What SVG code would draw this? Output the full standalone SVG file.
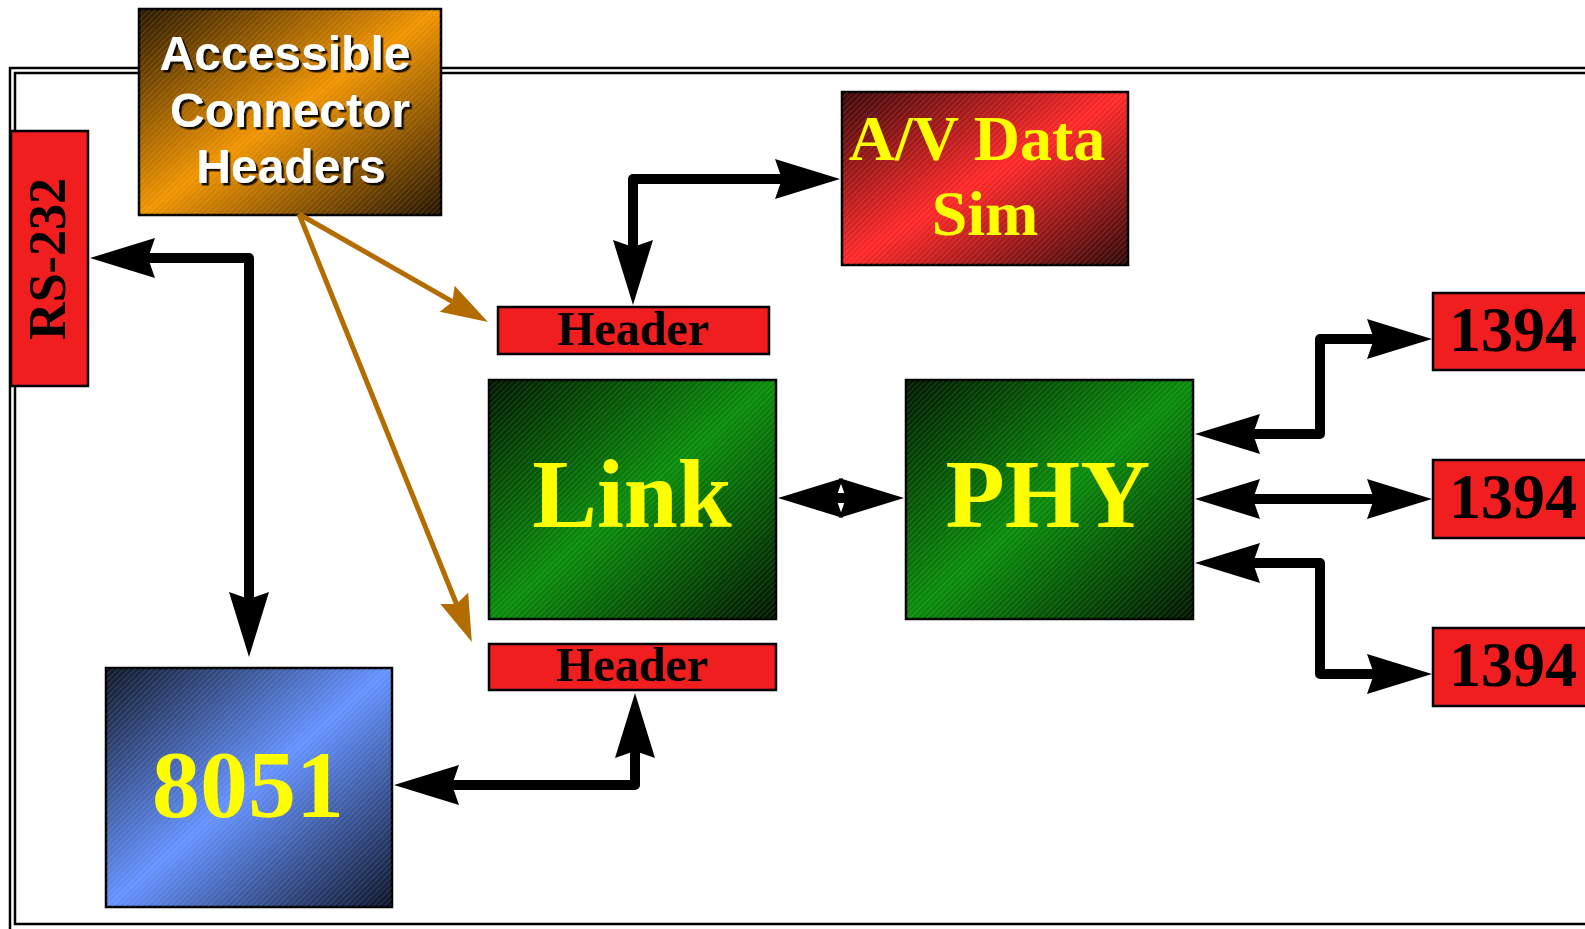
<svg xmlns="http://www.w3.org/2000/svg" width="1585" height="929" viewBox="0 0 1585 929">
<defs>
<style>
.box{stroke:#000;stroke-width:2.5}
.red{fill:#f01e1e}
.serif{font-family:"Liberation Serif","Times New Roman",serif;font-weight:bold;text-anchor:middle}
.yel{fill:#ffff00}
.blk{fill:#000}
.sans{font-family:"Liberation Sans",Arial,sans-serif;font-weight:bold;font-size:48px;fill:#fff;text-anchor:middle}
.conn{fill:none;stroke:#000;stroke-width:10;stroke-linejoin:round;marker-start:url(#ah);marker-end:url(#ah)}
.oconn{fill:none;stroke:#b36c00;stroke-width:5;marker-end:url(#oah)}
.hatch{fill:url(#hatch)}
</style>
<marker id="ah" markerUnits="userSpaceOnUse" markerWidth="70" markerHeight="44" viewBox="0 -22 70 44" refX="7" refY="0" orient="auto-start-reverse">
<path d="M0,-20 L65,0 L0,20 L7,0 z" fill="#000"/>
</marker>
<marker id="oah" markerUnits="userSpaceOnUse" markerWidth="50" markerHeight="34" viewBox="0 -17 50 34" refX="6" refY="0" orient="auto">
<path d="M0,-15 L47,0 L0,15 L6,0 z" fill="#b36c00"/>
</marker>
<linearGradient id="gOrange" x1="0" y1="0" x2="1" y2="1">
<stop offset="0" stop-color="#2a1800"/><stop offset="0.5" stop-color="#f09400"/><stop offset="1" stop-color="#241400"/>
</linearGradient>
<linearGradient id="gRed" x1="0" y1="0" x2="1" y2="1">
<stop offset="0" stop-color="#3a0808"/><stop offset="0.5" stop-color="#ff2828"/><stop offset="1" stop-color="#300808"/>
</linearGradient>
<linearGradient id="gGreen" x1="0" y1="0" x2="1" y2="1">
<stop offset="0" stop-color="#001800"/><stop offset="0.5" stop-color="#0a8c0a"/><stop offset="1" stop-color="#001400"/>
</linearGradient>
<linearGradient id="gBlue" x1="0" y1="0" x2="1" y2="1">
<stop offset="0" stop-color="#101828"/><stop offset="0.5" stop-color="#6492ff"/><stop offset="1" stop-color="#0c1428"/>
</linearGradient>
<pattern id="hatch" patternUnits="userSpaceOnUse" width="4" height="4" patternTransform="rotate(45)">
<rect x="0" y="0" width="1" height="4" fill="#fff" fill-opacity="0.12"/>
</pattern>
<filter id="shadow" x="-10%" y="-20%" width="130%" height="150%">
<feDropShadow dx="2.5" dy="2.5" stdDeviation="0.6" flood-color="#000" flood-opacity="0.9"/>
</filter>
</defs>
<rect width="1585" height="929" fill="#fff"/>
<g id="frame" fill="none" stroke="#000">
<rect x="10" y="68" width="1600" height="870" stroke-width="2.5"/>
<rect x="15" y="73" width="1600" height="851" stroke-width="2.5"/>
</g>
<g id="accessible">
<rect class="box" x="139" y="9" width="302" height="206" fill="url(#gOrange)"/>
<rect class="hatch" x="139" y="9" width="302" height="206"/>
<g filter="url(#shadow)">
<text class="sans" x="285" y="70">Accessible</text>
<text class="sans" x="290" y="127">Connector</text>
<text class="sans" x="291" y="183">Headers</text>
</g>
</g>
<g id="rs232">
<rect class="box red" x="11" y="131" width="77" height="255"/>
<text class="serif blk" font-size="52" transform="translate(65,259) rotate(-90)">RS-232</text>
</g>
<g id="avsim">
<rect class="box" x="842" y="92" width="286" height="173" fill="url(#gRed)"/>
<rect class="hatch" x="842" y="92" width="286" height="173"/>
<text class="serif yel" font-size="64" x="977" y="160">A/V Data</text>
<text class="serif yel" font-size="64" x="985" y="235">Sim</text>
</g>
<g id="header-top">
<rect class="box red" x="498" y="307" width="271" height="47"/>
<text class="serif blk" font-size="48" x="633" y="345">Header</text>
</g>
<g id="link">
<rect class="box" x="489" y="380" width="287" height="239" fill="url(#gGreen)"/>
<rect class="hatch" x="489" y="380" width="287" height="239"/>
<text class="serif yel" font-size="97" x="632" y="527">Link</text>
</g>
<g id="phy">
<rect class="box" x="906" y="380" width="287" height="239" fill="url(#gGreen)"/>
<rect class="hatch" x="906" y="380" width="287" height="239"/>
<text class="serif yel" font-size="97" x="1048" y="527">PHY</text>
</g>
<g id="header-bottom">
<rect class="box red" x="489" y="644" width="287" height="46"/>
<text class="serif blk" font-size="48" x="632" y="681">Header</text>
</g>
<g id="mcu8051">
<rect class="box" x="106" y="668" width="286" height="239" fill="url(#gBlue)"/>
<rect class="hatch" x="106" y="668" width="286" height="239"/>
<text class="serif yel" font-size="96" x="248" y="817">8051</text>
</g>
<g id="p1394-1">
<rect class="box red" x="1433" y="293" width="170" height="77"/>
<text class="serif blk" font-size="64" x="1513" y="351">1394</text>
</g>
<g id="p1394-2">
<rect class="box red" x="1433" y="460" width="170" height="78"/>
<text class="serif blk" font-size="64" x="1513" y="518">1394</text>
</g>
<g id="p1394-3">
<rect class="box red" x="1433" y="628" width="170" height="78"/>
<text class="serif blk" font-size="64" x="1513" y="686">1394</text>
</g>
<g id="connectors">
<path class="conn" d="M148,258 L249,258 L249,599"/>
<path class="conn" d="M633,247 L633,179 L782,179"/>
<path class="conn" d="M452,785 L635,785 L635,751"/>
<path class="conn" d="M836,498 L846,498"/>
<path class="conn" d="M1253,434 L1320,434 L1320,339 L1374,339"/>
<path class="conn" d="M1253,499 L1374,499"/>
<path class="conn" d="M1253,563 L1320,563 L1320,674 L1374,674"/>
<path class="oconn" d="M299,214 L452.4,301.7"/>
<path class="oconn" d="M299,214 L456.5,604"/>
</g>
</svg>
